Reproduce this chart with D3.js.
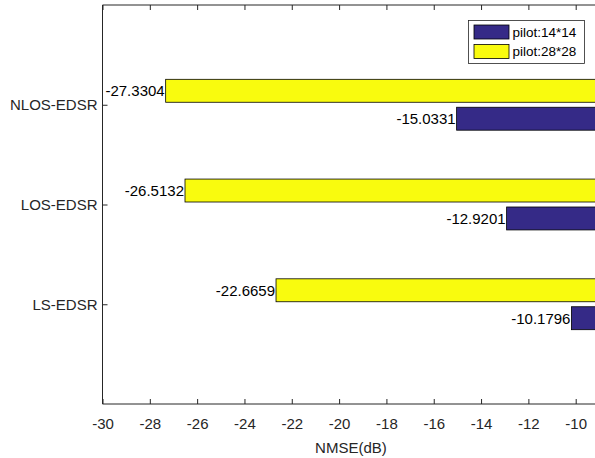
<!DOCTYPE html>
<html>
<head>
<meta charset="utf-8">
<script src="https://cdn.jsdelivr.net/npm/d3@7"></script>
<style>
  html, body { margin: 0; padding: 0; background: #fff; }
  svg { display: block; font-family: "Liberation Sans", Arial, Helvetica, sans-serif; }
</style>
</head>
<body>
<svg id="chart" width="595" height="458"></svg>
<script>
const categories = ["LS-EDSR", "LOS-EDSR", "NLOS-EDSR"];
const seriesNames = ["pilot:14*14", "pilot:28*28"];
const pilot14 = [-10.1796, -12.9201, -15.0331];
const pilot28 = [-22.6659, -26.5132, -27.3304];
const xTicks = [-30, -28, -26, -24, -22, -20, -18, -16, -14, -12, -10];
const xLabel = "NMSE(dB)";
const colors = ["#352A87", "#F9FB0E"];

(function () {
const svg = d3.select("#chart");
const mLeft = 102.5, mTop = 5, mBottom = 404;
const x = d3.scaleLinear().domain([-30, -10]).range([mLeft, 575.7]);
const xMax = -9;
const mRight = x(xMax);
const y = d3.scaleLinear().domain([0, 4]).range([mBottom, mTop]);
const axisColor = "#262626";

svg.append("defs").append("clipPath").attr("id", "clip")
  .append("rect").attr("x", mLeft).attr("y", mTop).attr("width", mRight - mLeft).attr("height", mBottom - mTop);

const barH = y(0) - y(0.23);
const offsets = [0.14, -0.14];
const series = [pilot14, pilot28];

const g = svg.append("g").attr("clip-path", "url(#clip)");
series.forEach((vals, si) => {
  g.selectAll(".bar" + si).data(vals).enter().append("rect")
    .attr("x", d => x(d))
    .attr("y", (d, i) => y(i + 1 - offsets[si]) - barH / 2)
    .attr("width", d => x(0) - x(d))
    .attr("height", barH)
    .attr("fill", colors[si])
    .attr("stroke", "#000")
    .attr("stroke-width", 0.8);
});

series.forEach((vals, si) => {
  svg.selectAll(".lab" + si).data(vals).enter().append("text")
    .attr("x", d => x(d) - 1)
    .attr("y", (d, i) => y(i + 1 - offsets[si]))
    .attr("dy", "0.36em")
    .attr("text-anchor", "end")
    .attr("font-size", 15)
    .attr("fill", "#000")
    .text(d => d.toFixed(4));
});

const ax = svg.append("g").attr("stroke", axisColor).attr("stroke-width", 1).attr("fill", "none");
ax.append("line").attr("x1", mLeft).attr("x2", mRight + 5).attr("y1", mBottom).attr("y2", mBottom);
ax.append("line").attr("x1", mLeft).attr("x2", mRight + 5).attr("y1", mTop).attr("y2", mTop);
ax.append("line").attr("x1", mLeft).attr("x2", mLeft).attr("y1", mTop).attr("y2", mBottom);

const xAxisB = d3.axisBottom(x).tickValues(xTicks).tickSizeInner(-5).tickSizeOuter(0).tickPadding(14);
const gb = svg.append("g").attr("transform", `translate(0,${mBottom})`).call(xAxisB);
gb.select(".domain").remove();
gb.selectAll("line").attr("stroke", axisColor);
gb.selectAll("text").attr("font-size", 15).attr("fill", axisColor).attr("font-family", "Liberation Sans, Arial, sans-serif")
  .text(d => d < 0 ? "-" + Math.abs(d) : d);

const xAxisT = d3.axisTop(x).tickValues(xTicks).tickSizeInner(-5).tickSizeOuter(0).tickFormat("");
const gt = svg.append("g").attr("transform", `translate(0,${mTop})`).call(xAxisT);
gt.select(".domain").remove();
gt.selectAll("line").attr("stroke", axisColor);

const yAxis = d3.axisLeft(y).tickValues([1, 2, 3]).tickSizeInner(-5).tickSizeOuter(0).tickPadding(5)
  .tickFormat(d => categories[d - 1]);
const gy = svg.append("g").attr("transform", `translate(${mLeft},0)`).call(yAxis);
gy.select(".domain").remove();
gy.selectAll("line").attr("stroke", axisColor);
gy.selectAll("text").attr("font-size", 15).attr("fill", axisColor).attr("font-family", "Liberation Sans, Arial, sans-serif");

svg.append("text").attr("x", (mLeft + mRight) / 2).attr("y", 453)
  .attr("text-anchor", "middle").attr("font-size", 15).attr("fill", axisColor).text(xLabel);

const lg = svg.append("g");
lg.append("rect").attr("x", 468.5).attr("y", 20.5).attr("width", 116).attr("height", 43)
  .attr("fill", "#fff").attr("stroke", "#262626").attr("stroke-width", 0.8);
seriesNames.forEach((name, i) => {
  const yy = 25 + i * 19.5;
  lg.append("rect").attr("x", 474).attr("y", yy).attr("width", 35).attr("height", 14)
    .attr("fill", colors[i]).attr("stroke", "#000").attr("stroke-width", 0.8);
  lg.append("text").attr("x", 512.5).attr("y", yy + 7).attr("dy", "0.36em")
    .attr("font-size", 13.5).attr("fill", "#000").text(name);
});
})();
</script>
</body>
</html>
